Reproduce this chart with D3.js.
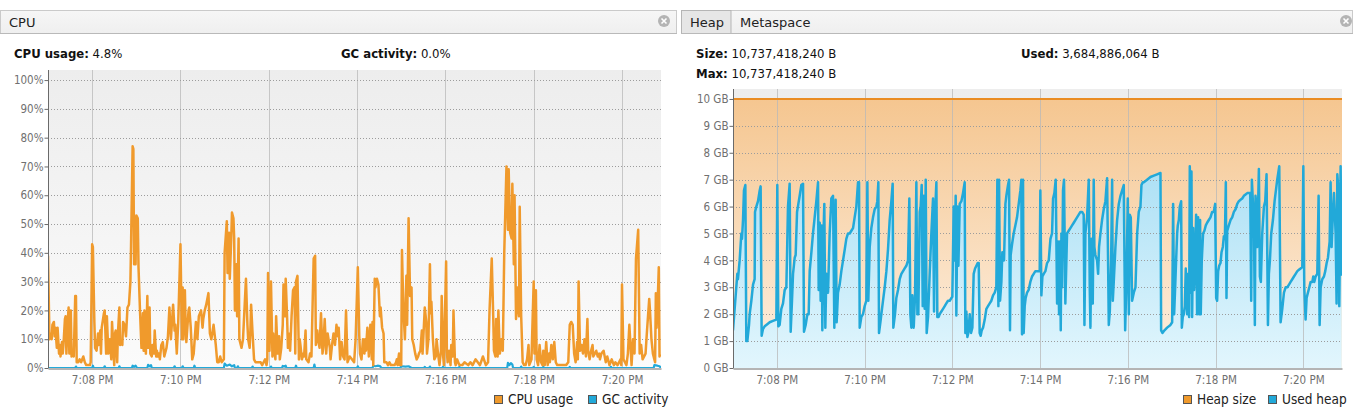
<!DOCTYPE html>
<html><head><meta charset="utf-8">
<script src="https://cdn.jsdelivr.net/npm/d3@7"></script>
<style>
html,body{margin:0;padding:0;background:#fff;}
svg{display:block;font-family:"DejaVu Sans",sans-serif;}
</style></head><body>
<svg id="c" width="1353" height="415"></svg>
<script>
// ---------- DATA ----------
// times are seconds after 7:07:00 PM
const cpuSec = [
0,2,4,5,6,8,9,10,12,13,
15,16,17,19,20,21,23,24,25,27,
28,29,31,32,34,35,37,38,39,41,
43,45,48,50,52,54,57,58,60,61,
63,64,66,68,69,71,72,73,76,77,
79,80,82,84,86,87,90,91,92,94,
95,97,98,99,101,102,104,106,108,110,
112,113,115,116,117,118,119,120,122,123,
125,127,129,130,131,133,135,136,138,139,
141,142,144,145,147,148,149,151,152,154,
156,158,161,163,165,167,170,172,173,175,
177,180,182,183,184,186,187,188,191,192,
194,196,198,201,203,205,208,210,211,213,
215,218,220,222,225,228,230,232,234,236,
239,240,243,244,246,247,249,250,252,253,
254,256,257,259,260,263,265,269,271,272,
274,275,276,278,280,282,284,286,289,291,
293,295,297,298,299,301,303,305,306,307,
309,310,312,314,315,317,319,320,322,323,
325,326,327,329,331,333,335,336,337,339,
341,342,343,345,347,348,350,351,354,356,
358,360,361,363,364,366,367,369,371,373,
374,376,378,380,383,384,386,388,390,392,
394,395,397,399,401,403,405,407,410,413,
416,418,421,423,424,426,428,430,431,432,
434,436,438,440,441,442,444,445,447,449,
451,452,454,456,457,460,462,464,466,469,
471,473,474,475,477,478,480,481,482,483,
485,487,488,490,492,494,495,497,499,501,
503,504,506,508,509,512,514,515,517,519,
520,521,523,525,527,528,530,532,534,535,
537,538,541,542,543,545,547,548,550,551,
553,554,556,559,563,566,571,574,577,581,
584,587,591,595,598,600,603,605,606,608,
609,611,612,614,616,618,620,623,625,626,
628,630,631,633,634,636,638,640,641,643,
645,647,649,651,653,654,657,660,661,663,
664,666,668,670,672,673,675,677,679,681,
682,684,686,688,690,692,695,700,704,707,
709,711,713,715,717,719,720,721,723,725,
727,729,731,733,734,736,738,740,741,743,
745,747,749,750,752,755,758,760,763,766,
769,771,774,776,778,779,780,782,784,786,
788,790,793,795,797,799,802,804,806,808,
812,814,817,818,820,822,824,825,826,827,
829,830,831,832];
const cpuUsage = [
39,10,12,10,15,16,11,14,7,14,
5,8,4,9,5,8,17,18,5,17,
21,5,20,4,6,4,25,25,2,2,
3,2,4,2,1,1,1,2,43,42,
16,7,6,12,8,13,5,14,19,20,
5,18,5,10,3,16,1,12,13,2,
12,21,8,9,8,16,15,11,21,22,
30,45,77,76,36,40,36,53,52,35,
20,7,19,6,20,5,25,7,21,5,
4,8,5,13,4,6,4,5,3,8,
9,4,7,11,21,10,22,13,15,5,
16,43,10,28,10,27,15,9,20,21,
14,3,5,16,10,18,20,14,17,20,
22,26,12,10,15,8,2,2,4,2,
3,40,51,33,47,31,45,54,52,45,
20,36,18,45,10,7,10,31,15,10,
7,13,22,12,3,2,2,2,2,1,
2,3,1,3,33,6,30,4,12,8,
3,18,5,11,3,7,15,29,18,31,
17,7,12,6,18,27,28,5,30,32,
3,10,8,3,5,4,13,3,2,5,
4,27,38,39,8,13,10,7,19,5,
7,17,5,12,7,3,8,12,8,15,
11,14,3,9,4,3,20,2,4,3,
2,10,35,11,5,3,10,5,10,6,
14,4,15,3,16,1,31,28,31,29,
18,21,14,12,2,2,1,2,1,1,
1,2,3,1,5,1,1,41,30,20,
10,32,15,52,25,28,10,8,5,3,
4,5,6,13,5,21,16,5,10,36,
19,23,10,3,4,10,5,1,6,25,
4,1,37,6,2,6,1,8,4,20,
2,1,3,1,1,2,1,2,1,3,
2,1,4,1,2,20,38,18,6,4,
17,4,20,5,10,6,40,70,48,69,
47,45,64,36,60,17,28,18,56,18,
2,1,1,3,8,1,3,30,5,27,
3,1,8,2,1,6,1,9,1,5,
2,8,3,9,2,1,1,1,1,2,
15,16,15,5,2,9,3,30,6,8,
5,10,4,17,6,3,6,8,4,5,
6,4,5,3,5,6,2,4,1,3,
1,2,1,2,3,1,29,3,2,1,
5,15,1,10,5,38,48,5,8,3,
5,13,24,20,10,5,3,2,26,14,
27,35,4,4.8];

const gcSec = [0,37,38,39,60,61,62,76,77,78,96,97,98,114,115,117,119,121,135,136,138,140,141,
171,172,173,182,183,184,198,199,200,239,240,243,247,250,253,254,257,258,259,277,278,279,
302,303,304,318,319,321,323,324,336,337,338,361,362,363,420,421,422,441,442,445,448,451,453,
479,480,486,490,494,511,512,513,518,519,520,536,537,538,558,559,560,624,625,627,629,631,632,
642,643,644,659,660,661,672,673,674,708,709,710,764,765,766,823,824,828,831,833];
const gcActivity = [0,0,0.5,0,0,0.8,0,0,0.6,0,0,0.6,0,0,0.8,0.4,0.8,0,0,1.1,0.6,1.0,0,
0,0.6,0,0,0.6,0,0,0.8,0,0,1.5,0.8,1.2,0.6,1.0,0,0,0.6,0,0,0.5,0,
0,0.5,0,0,0.7,0.5,0.8,0,0,0.8,0,0,1.2,0,0,0.6,0,0,0.8,0.6,0.8,0.7,0,
0,0.6,0.5,0.6,0,0,0.4,0,0,0.5,0,0,0.5,0,0,0.4,0,0,1.8,1.0,1.7,1.2,0,
0,0.5,0,0,0.4,0,0,0.4,0,0,0.4,0,0,0.4,0,0,1.0,0.8,0.6,0];

const heapSizeSec = [0, 833];
const heapSizeGB = [10, 10];

const heapSec = [
0,5.9,6.8,9.1,11.4,12.3,13.7,15.0,16.9,18.2,
19.6,21.9,22.8,25.1,27.4,29.6,30.1,31.9,34.2,36.5,
37.8,39.2,41.0,43.3,45.6,50.2,54.7,59.3,60.6,62.0,
63.8,66.1,68.4,70.7,73.0,75.2,77.5,78.9,80.7,82.1,
84.4,85.7,87.6,89.4,91.2,93.5,95.8,97.1,99.4,101.7,
103.5,104.9,107.2,109.4,111.7,114.0,116.3,117.2,118.6,119.9,
121.3,122.2,123.6,124.9,126.3,127.7,130.0,132.2,134.5,136.8,
138.6,140.4,141.8,143.6,145.9,148.2,150.5,152.8,155.0,157.3,
159.6,161.9,164.2,166.4,168.7,171.0,172.4,173.3,175.6,177.8,
180.1,182.4,183.8,185.1,187.0,189.2,191.5,193.8,196.1,197.4,
198.8,199.7,201.6,203.8,206.1,207.5,209.8,212.0,214.3,216.6,
218.4,219.3,221.6,223.4,225.7,228.0,230.3,232.6,234.8,237.1,
239.4,241.2,242.6,244.0,245.3,247.2,249.0,250.8,252.2,253.5,
255.4,256.7,258.1,259.5,260.8,262.2,263.6,264.9,266.8,269.0,
271.3,273.6,275.0,276.3,278.2,279.5,281.4,282.7,285.0,287.3,
289.6,291.8,294.1,296.4,298.7,300.0,301.9,303.2,304.6,305.5,
306.9,308.3,310.1,312.4,314.6,316.9,317.8,319.2,320.6,321.9,
323.8,325.6,327.4,329.2,331.1,332.9,334.7,336.1,337.4,338.8,
340.2,342.0,344.3,346.6,348.8,351.1,353.4,355.7,358.0,360.2,
361.6,363.0,363.9,365.3,367.1,368.4,370.7,372.6,373.9,376.2,
377.6,378.9,379.8,381.7,383.9,386.2,388.5,390.8,393.1,394.4,
395.3,396.7,397.6,399.0,400.3,402.2,404.4,406.7,409.0,411.3,
413.6,415.9,418.1,419.5,420.4,421.8,423.2,425.0,427.3,429.6,
431.9,434.2,436.4,437.8,439.6,441.4,443.3,444.6,446.0,447.3,
448.3,449.2,450.1,451.4,452.8,454.6,456.9,459.2,461.5,463.8,
466.1,468.3,470.6,472.9,475.2,477.5,479.7,480.7,482.0,484.3,
486.6,488.0,488.9,490.2,492.1,493.4,494.3,495.7,498.0,499.4,
500.7,502.6,504.8,507.1,509.4,511.7,513.1,514.0,515.4,517.2,
518.6,519.5,520.8,523.1,525.4,527.7,530.0,532.3,534.5,536.4,
538.2,540.0,541.4,542.7,544.1,545.9,548.2,550.5,552.8,555.0,
557.3,558.7,560.5,561.9,566.4,571.0,575.6,580.1,584.7,585.6,
587.4,590.2,593.8,598.4,600.7,602.0,603.4,604.8,606.1,607.5,
608.4,609.8,611.1,613.0,613.9,615.2,616.6,618.0,619.3,621.2,
622.5,623.9,624.8,626.2,627.1,628.0,629.4,630.7,632.1,633.5,
634.8,636.2,637.6,638.9,639.8,641.2,643.0,644.8,646.7,648.5,
650.8,653.1,655.4,657.7,659.5,660.9,662.2,663.6,665.0,666.8,
668.2,670.0,671.4,672.8,674.1,675.0,676.0,678.2,680.5,682.8,
685.1,687.4,689.7,691.9,694.2,696.5,698.8,701.1,703.4,705.6,
707.5,708.8,709.7,711.1,712.5,713.8,714.7,716.1,717.0,719.3,
720.7,722.0,723.9,726.2,728.0,729.8,731.7,733.0,734.4,736.2,
738.5,740.8,742.6,744.4,747.2,749.0,751.3,753.6,755.9,758.2,
760.5,762.7,765.0,767.3,769.6,771.9,774.1,776.4,778.7,780.1,
781.4,783.2,784.6,786.4,788.3,790.1,792.4,793.7,795.1,796.9,
799.2,801.0,802.4,803.8,806.0,808.3,810.1,812.0,813.8,816.1,
817.4,818.8,820.2,822.0,824.3,825.6,826.6,827.9,829.3,831.1,
832.5];
const heapUsedGB = [
1.4,3.5,3.3,4.0,5.0,4.8,5.5,6.6,6.8,1.0,
1.0,1.6,2.0,2.5,3.1,3.3,5.8,6.0,6.2,6.6,
6.75,1.2,1.45,1.55,1.6,1.7,1.75,1.8,6.8,1.55,
1.6,2.2,2.4,2.9,3.0,6.0,6.85,1.35,2.5,3.5,
4.1,4.2,5.8,6.1,6.4,6.8,6.85,1.35,1.6,2.0,
2.0,3.6,4.3,5.0,5.6,6.2,6.9,2.9,5.4,2.5,
5.3,1.4,4.8,6.1,1.5,3.5,2.8,5.0,6.3,6.4,
1.5,6.25,1.7,2.8,3.1,3.6,4.0,4.4,4.8,5.0,
5.0,5.1,5.2,5.6,6.0,6.9,6.9,1.5,1.9,2.0,
2.3,2.5,6.9,2.5,4.5,5.2,5.6,5.9,6.0,6.2,
6.9,1.3,1.7,2.2,2.7,3.0,3.6,4.4,5.5,6.2,
6.85,1.5,2.0,2.6,2.9,3.3,3.5,3.6,3.7,3.8,
4.0,6.3,2.0,1.5,2.7,1.5,2.7,6.9,2.0,2.0,
5.8,6.0,6.8,2.3,6.4,2.2,7.0,1.3,1.9,3.5,
5.0,6.3,2.1,5.7,6.9,1.9,1.9,2.0,2.1,2.2,
2.3,2.4,2.5,2.5,2.6,2.65,6.0,4.0,6.4,1.95,
6.0,3.8,6.1,6.2,6.5,6.9,1.3,2.1,1.15,1.3,
2.0,1.3,1.5,3.5,3.7,3.8,3.9,3.9,1.3,1.2,
1.4,1.5,1.8,2.2,2.3,2.4,2.5,2.7,2.8,3.0,
7.0,2.3,7.0,2.5,3.2,4.3,4.0,6.1,6.4,6.8,
7.0,1.4,4.2,4.6,5.0,5.3,5.6,6.1,6.6,7.0,
1.25,7.0,1.3,2.3,2.6,2.8,2.9,3.2,3.4,3.5,
3.6,3.6,3.6,3.6,6.6,2.7,3.4,3.5,3.6,3.9,
4.0,4.8,5.0,6.3,6.5,7.0,2.4,4.7,2.0,4.7,
1.4,5.0,3.0,6.6,7.0,2.4,5.0,5.1,5.2,5.3,
5.4,5.5,5.6,5.7,5.8,5.8,5.7,1.6,5.0,5.6,
7.0,2.9,1.5,4.8,2.4,7.0,4.5,4.2,4.0,3.5,
4.5,5.0,5.5,5.9,6.2,7.05,3.8,1.6,2.1,4.0,
7.0,2.5,3.2,4.5,5.5,6.1,6.4,6.6,6.8,1.4,
3.3,6.3,2.0,5.7,5.6,2.5,2.8,3.0,5.0,5.8,
6.0,6.8,6.9,6.9,7.0,7.1,7.15,7.2,7.25,1.4,
1.3,1.4,1.5,1.6,1.7,6.1,2.0,3.0,4.0,5.0,
5.3,5.5,6.0,6.2,1.5,1.9,2.0,2.3,3.7,2.0,
3.5,1.9,7.5,2.8,7.3,1.9,5.2,2.9,4.0,5.7,
2.0,5.6,2.0,5.5,2.0,4.0,5.0,5.1,5.3,5.4,
5.5,5.6,5.8,5.8,6.1,2.6,2.5,3.6,3.8,3.9,
4.3,4.5,4.9,4.8,6.9,2.6,5.1,5.3,5.5,5.6,
5.8,5.9,6.1,6.2,6.25,6.3,6.4,6.45,6.5,6.5,
6.5,2.5,7.0,6.2,5.5,1.6,6.4,6.0,4.5,7.4,
3.4,3.2,5.0,6.0,6.2,7.2,1.6,3.5,4.0,5.0,
5.5,6.2,6.6,7.0,7.5,1.7,2.2,2.8,3.0,3.0,
3.1,3.2,3.3,3.4,3.5,3.6,3.65,3.7,3.75,7.5,
3.0,1.8,2.6,2.8,3.0,3.2,3.2,3.4,3.2,3.4,
3.5,6.4,1.6,3.0,3.3,3.4,3.6,3.9,4.1,4.7,
6.9,4.5,5.5,6.5,5.0,2.4,7.2,6.7,2.3,7.5,
3.43];

const cpuYTicks = [0,10,20,30,40,50,60,70,80,90,100];
const heapYTicks = [0,1,2,3,4,5,6,7,8,9,10];

// ---------- SETUP ----------
const base = new Date(2024, 0, 1, 19, 7, 0);
const toDate = s => new Date(base.getTime() + s * 1000);
const tEnd = toDate(833);
const fmtTime = d3.timeFormat("%-I:%M %p");
const LABEL_FONT = "'DejaVu Sans Condensed', 'DejaVu Sans', sans-serif";

const svg = d3.select("#c");
const defs = svg.append("defs");
function vgrad(id, stops) {
  const g = defs.append("linearGradient").attr("id", id)
    .attr("x1", 0).attr("y1", 0).attr("x2", 0).attr("y2", 1);
  stops.forEach(([o, c]) => g.append("stop").attr("offset", o).attr("stop-color", c));
}
vgrad("bgGrad", [["0%", "#ededed"], ["100%", "#fbfbfb"]]);
vgrad("heapGrad", [["0%", "#f5c690"], ["100%", "#fdf0e2"]]);
vgrad("usedGrad", [["0%", "#ace0f5"], ["100%", "#e2f6fd"]]);
vgrad("tabGrad", [["0%", "#f6f6f6"], ["100%", "#efefef"]]);

const ORANGE = "#f09a2c";
const BLUE = "#22a9d9";

// ---------- TAB BARS ----------
function closeIcon(cx, cy) {
  const g = svg.append("g");
  g.append("circle").attr("cx", cx).attr("cy", cy).attr("r", 6).attr("fill", "#b4b4b4");
  g.append("path").attr("d", `M${cx-2.5},${cy-2.5}L${cx+2.5},${cy+2.5}M${cx+2.5},${cy-2.5}L${cx-2.5},${cy+2.5}`)
    .attr("stroke", "#fff").attr("stroke-width", 1.6);
}
svg.append("rect").attr("x", 0.5).attr("y", 10.5).attr("width", 676).attr("height", 23)
  .attr("fill", "url(#tabGrad)").attr("stroke", "#cacaca");
svg.append("line").attr("x1", 0).attr("x2", 677).attr("y1", 33.5).attr("y2", 33.5).attr("stroke", "#b9b9b9");
svg.append("text").attr("x", 9).attr("y", 26.5).attr("font-size", 13).attr("fill", "#222").text("CPU");
closeIcon(664, 21);

svg.append("rect").attr("x", 681.5).attr("y", 10.5).attr("width", 671).attr("height", 23)
  .attr("fill", "url(#tabGrad)").attr("stroke", "#cacaca");
svg.append("rect").attr("x", 681.5).attr("y", 10.5).attr("width", 49.5).attr("height", 23)
  .attr("fill", "#e6e6e6").attr("stroke", "#b5b5b5");
svg.append("line").attr("x1", 681).attr("x2", 1353).attr("y1", 33.5).attr("y2", 33.5).attr("stroke", "#b9b9b9");
svg.append("text").attr("x", 690).attr("y", 26.5).attr("font-size", 13).attr("fill", "#222").text("Heap");
svg.append("text").attr("x", 740).attr("y", 26.5).attr("font-size", 13).attr("fill", "#222").text("Metaspace");
closeIcon(1346, 21);

// ---------- STAT LINES ----------
function stat(x, y, label, value) {
  const t = svg.append("text").attr("x", x).attr("y", y).attr("font-size", 13)
    .attr("font-family", LABEL_FONT).attr("fill", "#111");
  t.append("tspan").attr("font-weight", "bold").text(label);
  t.append("tspan").text(" " + value);
}
stat(14, 58, "CPU usage:", "4.8%");
stat(341, 58, "GC activity:", "0.0%");
stat(696, 58, "Size:", "10,737,418,240 B");
stat(696, 78, "Max:", "10,737,418,240 B");
stat(1021, 58, "Used:", "3,684,886,064 B");

// ---------- CHART PANEL ----------
function panel(o) {
  const x = d3.scaleTime().domain([base, tEnd]).range([o.x0, o.x1]);
  const y = d3.scaleLinear().domain([0, o.yMax]).range([o.y1, o.y0]);
  const clipId = "clip" + o.id;
  defs.append("clipPath").attr("id", clipId).append("rect")
    .attr("x", o.x0).attr("y", o.y0).attr("width", o.x1 - o.x0).attr("height", o.y1 - o.y0);
  svg.append("rect").attr("x", o.x0).attr("y", o.y0).attr("width", o.x1 - o.x0).attr("height", o.y1 - o.y0)
    .attr("fill", "url(#bgGrad)");
  const gData = svg.append("g").attr("clip-path", `url(#${clipId})`);
  o.fills(gData, x, y);
  // grid
  const timeTicks = x.ticks(d3.timeMinute.every(2));
  const grid = svg.append("g");
  grid.selectAll(".vg").data(timeTicks).join("line")
    .attr("x1", d => Math.round(x(d)) + 0.5).attr("x2", d => Math.round(x(d)) + 0.5)
    .attr("y1", o.y0).attr("y2", o.y1).attr("stroke", "#b8b8b8").attr("stroke-opacity", 0.75);
  grid.selectAll(".hg").data(o.yTicks.filter(v => v > 0)).join("line")
    .attr("x1", o.x0).attr("x2", o.x1)
    .attr("y1", d => Math.round(y(d)) + 0.5).attr("y2", d => Math.round(y(d)) + 0.5)
    .attr("stroke", "#9c9c9c").attr("stroke-dasharray", "1,2");
  const gLines = svg.append("g").attr("clip-path", `url(#${clipId})`);
  o.lines(gLines, x, y);
  // axes
  const yAxis = d3.axisLeft(y).tickValues(o.yTicks).tickFormat(o.yFmt).tickSize(4).tickSizeOuter(0);
  const ga = svg.append("g").attr("transform", `translate(${o.x0 + 0.5},0)`).call(yAxis);
  ga.select(".domain").attr("stroke", "#6a6a6a").attr("d", `M0,${o.y0}V${o.y1}`);
  ga.selectAll(".tick line").attr("stroke", "#6a6a6a");
  ga.selectAll(".tick text").attr("fill", "#707070").attr("font-size", 11.5)
    .attr("font-family", LABEL_FONT).attr("x", -5);
  const xAxis = d3.axisBottom(x).tickValues(timeTicks).tickFormat(fmtTime).tickSize(0).tickSizeOuter(0);
  const gx = svg.append("g").attr("transform", `translate(0,${o.y1 + 0.5})`).call(xAxis);
  gx.select(".domain").attr("stroke", "#6a6a6a");
  gx.selectAll(".tick text").attr("fill", "#707070").attr("font-size", 11.5)
    .attr("font-family", LABEL_FONT).attr("dy", "0.71em").attr("y", 7);
}

// CPU
panel({
  id: "cpu", x0: 48, x1: 661, y0: 70, y1: 368, yMax: 103.5,
  yTicks: cpuYTicks, yFmt: d => d + "%",
  fills: () => {},
  lines: (g, x, y) => {
    const line = d3.line().x(d => x(toDate(d[0]))).y(d => y(d[1]));
    g.append("path").datum(d3.zip(gcSec, gcActivity)).attr("d", line)
      .attr("fill", "none").attr("stroke", BLUE).attr("stroke-width", 2.2).attr("stroke-linejoin", "round");
    g.append("path").datum(d3.zip(cpuSec, cpuUsage)).attr("d", line)
      .attr("fill", "none").attr("stroke", ORANGE).attr("stroke-width", 2.5).attr("stroke-linejoin", "round");
  }
});

// Heap
panel({
  id: "heap", x0: 733, x1: 1342, y0: 89, y1: 368, yMax: 10.37,
  yTicks: heapYTicks, yFmt: d => d + " GB",
  fills: (g, x, y) => {
    const area = d3.area().x(d => x(toDate(d[0]))).y0(y(0)).y1(d => y(d[1]));
    g.append("path").datum(d3.zip(heapSizeSec, heapSizeGB)).attr("d", area).attr("fill", "url(#heapGrad)");
    g.append("path").datum(d3.zip(heapSec, heapUsedGB)).attr("d", area).attr("fill", "url(#usedGrad)");
  },
  lines: (g, x, y) => {
    const line = d3.line().x(d => x(toDate(d[0]))).y(d => y(d[1]));
    g.append("path").datum(d3.zip(heapSizeSec, heapSizeGB)).attr("d", line)
      .attr("fill", "none").attr("stroke", "#ea8c22").attr("stroke-width", 2);
    g.append("path").datum(d3.zip(heapSec, heapUsedGB)).attr("d", line)
      .attr("fill", "none").attr("stroke", BLUE).attr("stroke-width", 2.5).attr("stroke-linejoin", "round");
  }
});

// ---------- LEGENDS ----------
function legend(items) {
  items.forEach(([x, color, label]) => {
    svg.append("rect").attr("x", x + 0.5).attr("y", 395.5).attr("width", 8).attr("height", 8)
      .attr("fill", color).attr("stroke", "#555").attr("stroke-width", 1);
    svg.append("text").attr("x", x + 14).attr("y", 404).attr("font-size", 13.5)
      .attr("font-family", LABEL_FONT).attr("fill", "#222").text(label);
  });
}
legend([[494, ORANGE, "CPU usage"], [588, BLUE, "GC activity"]]);
legend([[1183, ORANGE, "Heap size"], [1268, BLUE, "Used heap"]]);
</script>
</body></html>
